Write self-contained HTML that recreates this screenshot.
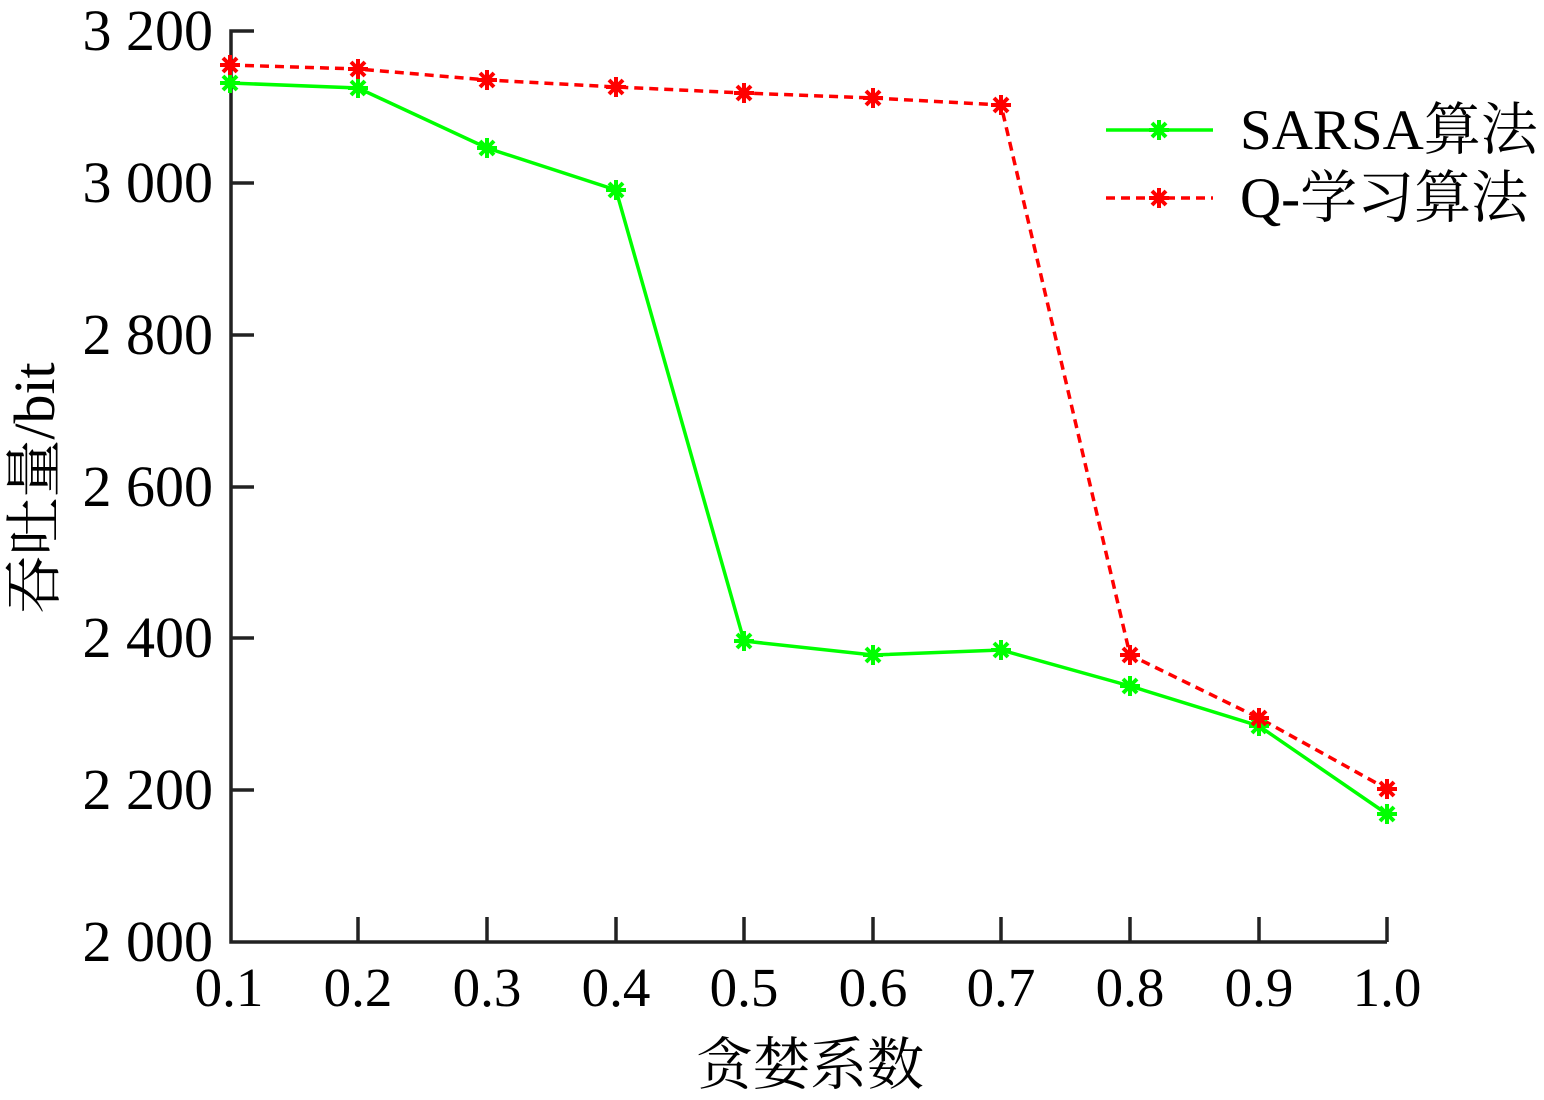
<!DOCTYPE html>
<html><head><meta charset="utf-8"><style>body{margin:0;background:#fff}</style></head>
<body>
<svg width="1544" height="1095" viewBox="0 0 1544 1095" xmlns="http://www.w3.org/2000/svg" font-family="'Liberation Serif','Noto Serif CJK SC',serif">
<defs>
<g id="ag"><path d="M-10,0H10M0,-10V10M-7,-7L7,7M-7,7L7,-7" stroke="#00ff00" stroke-width="4"/></g>
<g id="ar"><path d="M-10,0H10M0,-10V10M-7,-7L7,7M-7,7L7,-7" stroke="#ff0000" stroke-width="4"/></g>
</defs>
<g stroke="#222" stroke-width="3.5" fill="none">
<path d="M254,31H231V942H1387"/>
<path d="M231,183H254M231,335H254M231,487H254M231,638H254M231,790H254"/>
<path d="M358,942V917M487,942V917M616,942V917M744,942V917M873,942V917M1001,942V917M1130,942V917M1259,942V917M1387,942V917"/>
</g>
<g font-size="58" fill="#000" text-anchor="end">
<text x="213" y="50">3 200</text><text x="213" y="202">3 000</text><text x="213" y="354">2 800</text>
<text x="213" y="506">2 600</text><text x="213" y="657">2 400</text><text x="213" y="809">2 200</text><text x="213" y="961">2 000</text>
</g>
<g font-size="55" fill="#000" text-anchor="middle">
<text x="229" y="1006">0.1</text><text x="358" y="1006">0.2</text><text x="487" y="1006">0.3</text><text x="616" y="1006">0.4</text><text x="744" y="1006">0.5</text>
<text x="873" y="1006">0.6</text><text x="1001" y="1006">0.7</text><text x="1130" y="1006">0.8</text><text x="1259" y="1006">0.9</text><text x="1387" y="1006">1.0</text>
<text x="810" y="1084" font-family="'Noto Serif CJK SC',serif" font-size="57">贪婪系数</text>
<text transform="translate(54,488) rotate(-90)" font-size="58"><tspan font-family="'Noto Serif CJK SC',serif">吞吐量</tspan>/bit</text>
</g>
<polyline points="230,83 358,88 487,148 616,190 744,641 873,655 1001,650 1130,686 1259,726 1387,814" fill="none" stroke="#00ff00" stroke-width="3.5"/>
<polyline points="230,65 358,69 487,80 616,87 744,93 873,98 1001,105 1130,655 1259,718 1387,789" fill="none" stroke="#ff0000" stroke-width="3.5" stroke-dasharray="9,6"/>
<g>
<use href="#ag" x="230" y="83"/><use href="#ag" x="358" y="88"/><use href="#ag" x="487" y="148"/><use href="#ag" x="616" y="190"/><use href="#ag" x="744" y="641"/><use href="#ag" x="873" y="655"/><use href="#ag" x="1001" y="650"/><use href="#ag" x="1130" y="686"/><use href="#ag" x="1259" y="726"/><use href="#ag" x="1387" y="814"/>
<use href="#ar" x="230" y="65"/><use href="#ar" x="358" y="69"/><use href="#ar" x="487" y="80"/><use href="#ar" x="616" y="87"/><use href="#ar" x="744" y="93"/><use href="#ar" x="873" y="98"/><use href="#ar" x="1001" y="105"/><use href="#ar" x="1130" y="655"/><use href="#ar" x="1259" y="718"/><use href="#ar" x="1387" y="789"/>
</g>
<line x1="1106" y1="130" x2="1213" y2="130" stroke="#00ff00" stroke-width="3.5"/>
<use href="#ag" x="1159" y="130"/>
<line x1="1106" y1="198" x2="1213" y2="198" stroke="#ff0000" stroke-width="3.5" stroke-dasharray="9,6"/>
<use href="#ar" x="1159" y="198"/>
<text x="1240" y="149" font-size="57">SARSA<tspan font-family="'Noto Serif CJK SC',serif" font-size="57">算法</tspan></text>
<text x="1240" y="217" font-size="57">Q-<tspan font-family="'Noto Serif CJK SC',serif" font-size="57">学习算法</tspan></text>
</svg>
</body></html>
